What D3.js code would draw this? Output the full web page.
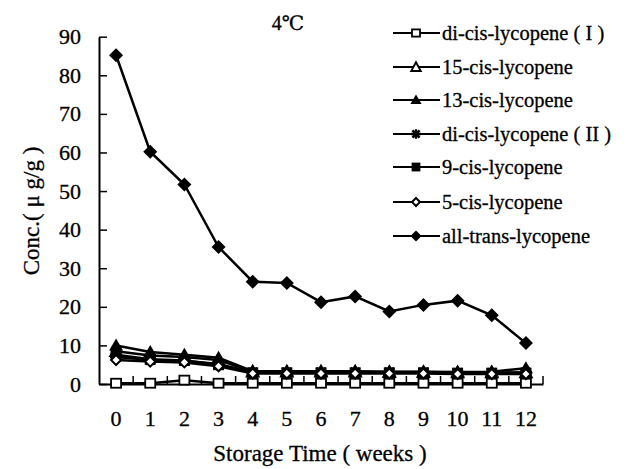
<!DOCTYPE html>
<html>
<head>
	<meta charset="utf-8">
	<title>Lycopene 4C</title>
	<script type="text/javascript" src="https://d3js.org/d3.v7.min.js"></script>
	<style>
		body { margin: 0; background: #fff; }
		text { font-family: "Liberation Serif", "DejaVu Serif", serif; fill: #000; stroke: #000; stroke-width: 0.3px; }
	</style>
</head>
<body>
	<script type="text/javascript">
		// data
		var weeks = [0,1,2,3,4,5,6,7,8,9,10,11,12];
		var yTicks = [0,10,20,30,40,50,60,70,80,90];
		var seriesNames = ["di-cis-lycopene ( I )", "15-cis-lycopene", "13-cis-lycopene",
			"di-cis-lycopene ( II )", "9-cis-lycopene", "5-cis-lycopene", "all-trans-lycopene"];
		var seriesMarks = ["squareOpen", "triangleOpen", "triangle", "star", "square", "diamondOpen", "diamond"];

		var diCisI   = [0.2, 0.2, 1.0, 0.2, 0.2, 0.2, 0.2, 0.2, 0.2, 0.2, 0.2, 0.2, 0.2];
		var cis15    = [8.5, 7.4, 7.0, 6.2, 3.2, 3.2, 3.2, 3.2, 3.1, 3.1, 3.0, 3.0, 3.0];
		var cis13    = [10.0, 8.3, 7.6, 6.8, 3.3, 3.3, 3.3, 3.3, 3.2, 3.2, 3.1, 3.2, 4.1];
		var diCisII  = [7.0, 6.2, 6.0, 5.2, 3.0, 3.0, 3.0, 3.0, 3.0, 3.0, 2.9, 2.9, 3.0];
		var cis9     = [7.6, 6.4, 6.1, 5.0, 2.9, 2.9, 2.9, 2.9, 2.9, 2.9, 2.8, 2.8, 2.8];
		var cis5     = [6.2, 5.8, 5.6, 4.6, 2.7, 2.7, 2.7, 2.7, 2.7, 2.7, 2.6, 2.6, 2.6];
		var allTrans = [85.2, 60.2, 51.7, 35.5, 26.5, 26.2, 21.2, 22.7, 18.8, 20.5, 21.6, 17.8, 10.6];

		var values = [diCisI, cis15, cis13, diCisII, cis9, cis5, allTrans];

		var W = 629, H = 469;
		var svg = d3.select("body").append("svg").attr("width", W).attr("height", H);

		var x = d3.scaleBand().domain(weeks).range([99, 543]);
		var y = d3.scaleLinear().domain([0, 90]).range([384, 36.7]);

		// axes
		var yAxis = svg.append("g").attr("transform", "translate(99,0)")
			.call(d3.axisLeft(y).tickValues(yTicks).tickSizeInner(-8).tickSizeOuter(0).tickPadding(18));
		yAxis.select(".domain").attr("stroke", "#000").attr("stroke-width", 2);
		yAxis.selectAll(".tick line").attr("stroke", "#000").attr("stroke-width", 1.5);
		yAxis.selectAll(".tick text").style("font-size", "22px").attr("font-family", null);

		var xAxis = svg.append("g").attr("transform", "translate(0,384)")
			.call(d3.axisBottom(x).tickSize(0).tickPadding(26));
		xAxis.select(".domain").attr("stroke", "#000").attr("stroke-width", 2);
		xAxis.selectAll(".tick text").style("font-size", "22px").attr("font-family", null);

		// ticks between categories, pointing up
		var bounds = weeks.slice(1).map(function (d) { return x(d); }).concat([x(12) + x.bandwidth()]);
		svg.append("g").selectAll("line").data(bounds).enter().append("line")
			.attr("x1", function (d) { return d; }).attr("x2", function (d) { return d; })
			.attr("y1", 384).attr("y2", 376)
			.attr("stroke", "#000").attr("stroke-width", 1.5);

		// titles
		svg.append("text").attr("x", 320).attr("y", 461).attr("text-anchor", "middle")
			.style("font-size", "23px").text("Storage Time ( weeks )");
		svg.append("text").attr("transform", "translate(39,211) rotate(-90)").attr("text-anchor", "middle")
			.style("font-size", "23px").text("Conc.( \u03bc g/g )");
		svg.append("text").attr("x", 288).attr("y", 30).attr("text-anchor", "middle")
			.style("font-size", "20px").text("4\u2103");

		// marker drawer
		function drawMark(g, kind, k) {
			k = k || 1;
			if (kind === "squareOpen") {
				g.append("rect").attr("x", -5 * k).attr("y", -4.5 * k).attr("width", 10 * k).attr("height", 9 * k)
					.attr("fill", "#fff").attr("stroke", "#000").attr("stroke-width", 1.8);
			} else if (kind === "square") {
				g.append("rect").attr("x", -5.5 * k).attr("y", -5.5 * k).attr("width", 11 * k).attr("height", 11 * k).attr("fill", "#000");
			} else if (kind === "triangleOpen") {
				g.append("path").attr("d", "M0," + (-6 * k) + "L" + (6 * k) + "," + (5 * k) + "L" + (-6 * k) + "," + (5 * k) + "Z")
					.attr("fill", "#fff").attr("stroke", "#000").attr("stroke-width", 1.8);
			} else if (kind === "triangle") {
				g.append("path").attr("d", "M0," + (-7 * k) + "L" + (7 * k) + "," + (5 * k) + "L" + (-7 * k) + "," + (5 * k) + "Z")
					.attr("fill", "#000");
			} else if (kind === "star") {
				var a = 6 * k, b = 4.5 * k;
				g.append("path").attr("d", "M" + -a + ",0L" + a + ",0M0," + -a + "L0," + a +
					"M" + -b + "," + -b + "L" + b + "," + b + "M" + -b + "," + b + "L" + b + "," + -b)
					.attr("stroke", "#000").attr("stroke-width", 2.4);
			} else if (kind === "diamondOpen") {
				var c = 5 * k;
				g.append("path").attr("d", "M0," + -c + "L" + c + ",0L0," + c + "L" + -c + ",0Z")
					.attr("fill", "#fff").attr("stroke", "#000").attr("stroke-width", 2);
			} else {
				var e = 7 * k;
				g.append("path").attr("d", "M0," + -e + "L" + e + ",0L0," + e + "L" + -e + ",0Z").attr("fill", "#000");
			}
		}

		var line = d3.line()
			.x(function (d, i) { return x(weeks[i]) + x.bandwidth() / 2; })
			.y(function (d) { return y(d); });

		values.forEach(function (vals, s) {
			svg.append("path").datum(vals).attr("d", line)
				.attr("fill", "none").attr("stroke", "#000").attr("stroke-width", 2.5);
		});
		values.forEach(function (vals, s) {
			vals.forEach(function (v, i) {
				var g = svg.append("g").attr("transform",
					"translate(" + (x(weeks[i]) + x.bandwidth() / 2) + "," + y(v) + ")");
				drawMark(g, seriesMarks[s]);
			});
		});

		// legend
		var legY = [33, 67, 100, 134, 167, 202, 236];
		seriesNames.forEach(function (name, s) {
			var g = svg.append("g").attr("transform", "translate(0," + legY[s] + ")");
			g.append("line").attr("x1", 393).attr("x2", 440).attr("y1", 0).attr("y2", 0)
				.attr("stroke", "#000").attr("stroke-width", 2);
			drawMark(g.append("g").attr("transform", "translate(416,0)"), seriesMarks[s], 0.8);
			g.append("text").attr("x", 442).attr("y", 7).style("font-size", "20.5px").text(name);
		});
	</script>
</body>
</html>
